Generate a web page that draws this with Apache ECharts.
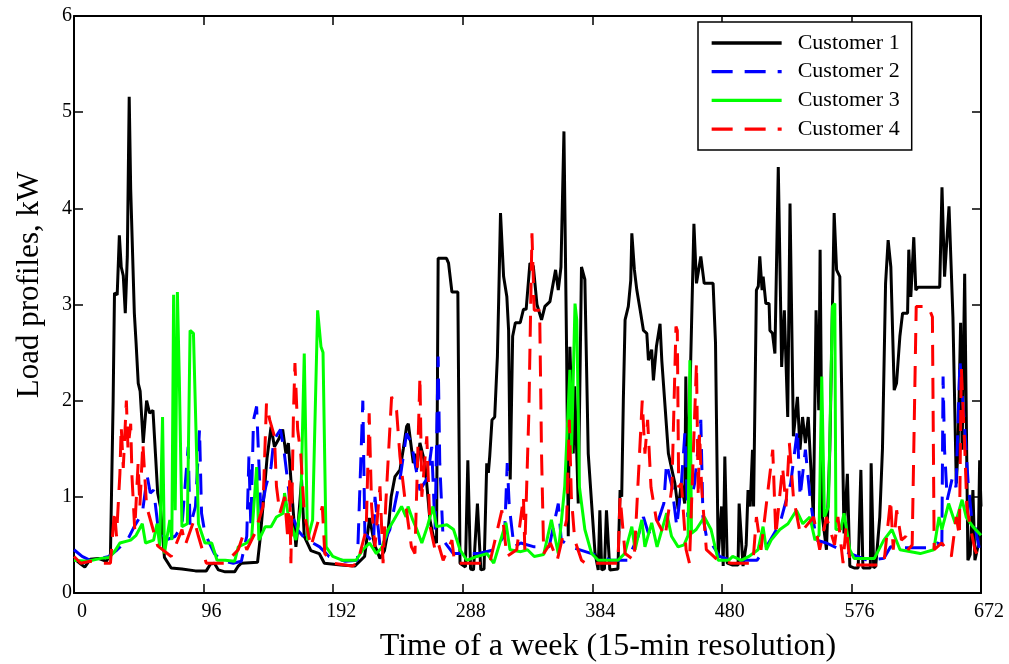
<!DOCTYPE html>
<html>
<head>
    <meta charset="utf-8">
    <script src="https://cdn.jsdelivr.net/npm/echarts@6/dist/echarts.min.js"></script>
    <style>
        html, body { margin: 0; padding: 0; background: #fff; }
        #chart { width: 1009px; height: 664px; }
    </style>
</head>
<body>
<div id="chart"></div>
<script>
    // tick labels
    var xTicks = [0, 96, 192, 288, 384, 480, 576, 672];
    var yTicks = [0, 1, 2, 3, 4, 5, 6];
    var names = ['Customer 1', 'Customer 2', 'Customer 3', 'Customer 4'];

    // [time step, kW]
    var customer1 = [[0,0.36],[5,0.3],[8,0.27],[12,0.35],[18,0.36],[24,0.33],[27,0.4],[29,2.0],[30,3.12],[32,3.1],[33.6,3.72],[35,3.39],[36.5,3.3],[38,2.91],[39.5,3.5],[40.9,5.16],[42,4.2],[44.7,2.91],[46,2.6],[47.6,2.18],[49,2.1],[51.3,1.56],[53.8,2.0],[56,1.87],[58.5,1.9],[60.5,1.41],[62,1.04],[64,0.9],[67,0.37],[72,0.26],[80,0.25],[90,0.23],[98,0.23],[101,0.3],[104,0.31],[107,0.24],[112,0.22],[119,0.22],[121.7,0.28],[124,0.31],[136,0.32],[137.8,0.55],[140.9,1.04],[143,1.4],[146,1.73],[148.5,1.52],[152,1.61],[154.6,1.7],[157,1.45],[158.8,1.56],[160.7,1.18],[164.4,0.48],[166,0.7],[168.6,1.18],[170.6,0.59],[175.5,0.44],[181.7,0.41],[185.5,0.31],[197.8,0.29],[208,0.28],[215.3,0.38],[219,0.78],[222.7,0.5],[226.7,0.36],[230,0.44],[232.8,0.66],[235,1.0],[237.8,1.21],[241.5,1.28],[244,1.5],[246.4,1.73],[247.7,1.76],[251.4,1.35],[252.6,1.45],[253.8,1.28],[256.3,1.56],[260,1.35],[263.7,0.76],[266.2,0.59],[268.6,0.52],[269.8,3.48],[276,3.48],[277.5,3.43],[280,3.13],[284.4,3.13],[286,0.31],[290,0.27],[291.8,1.38],[293.8,0.25],[296,0.24],[298.9,0.93],[301.4,0.24],[303.8,0.25],[305.8,1.35],[307,1.25],[308,1.42],[309.7,1.8],[311.7,1.83],[313.7,2.46],[314.7,3.08],[316,3.95],[318.3,3.29],[320.7,3.08],[322,2.73],[323.2,1.18],[325,2.67],[327,2.81],[330.6,2.81],[333,2.95],[335,2.95],[337.8,3.43],[340.3,3.4],[343,3.0],[346.4,2.84],[348.9,2.98],[352.6,3.03],[356.8,3.36],[358.8,3.15],[360.8,3.39],[363,4.8],[365,2.49],[366.2,0.59],[367.4,2.56],[369.9,1.45],[371,2.15],[373.6,0.93],[376,3.39],[378.5,3.26],[381,1.45],[383.5,0.93],[386,0.42],[388.4,0.24],[389.6,0.86],[391,0.24],[393,0.25],[394.5,0.86],[397,0.24],[403,0.25],[404.6,1.07],[405.8,1.0],[407,2.0],[408.3,2.84],[410.7,2.98],[412.5,3.25],[413.3,3.74],[415.2,3.36],[417,3.15],[419.5,2.94],[421.9,2.73],[424.4,2.7],[425.6,2.42],[428,2.53],[429.3,2.21],[431.5,2.56],[434.2,2.8],[435.5,2.42],[440.4,1.45],[443,1.28],[445.2,1.14],[447.6,0.87],[450,1.14],[452.5,0.93],[453.3,2.25],[454.5,0.97],[459.3,3.84],[461.2,3.22],[464.4,3.5],[466.9,3.22],[473.5,3.22],[475.3,2.6],[477.3,0.38],[479.8,0.9],[481,0.28],[482.2,1.42],[484,0.31],[488,0.29],[492,0.29],[492.8,0.93],[495.7,0.28],[498,0.5],[499.4,1.07],[501,0.9],[502.7,1.49],[503.5,0.9],[505.6,3.15],[507,3.19],[508.1,3.5],[509.8,3.15],[510.6,3.29],[512.6,3.01],[515,3.01],[515.6,2.73],[517.5,2.7],[519.3,2.49],[521.8,4.43],[524.3,2.35],[526.3,2.94],[528.8,1.83],[530.5,4.05],[533,1.63],[536,2.04],[537.9,1.49],[539.8,1.83],[541.9,1.56],[544,1.83],[547.8,0.79],[549.8,2.94],[551.8,1.9],[552.8,3.57],[554.5,0.79],[557.5,0.45],[560,1.5],[563.2,3.95],[565,3.36],[567.4,3.29],[570.5,0.62],[573,1.24],[574.8,0.28],[578,0.26],[581,0.26],[583,1.28],[584.5,0.26],[590,0.26],[590.6,1.35],[592.5,0.26],[594,0.28],[597,0.79],[599,1.5],[601.3,3.22],[603.2,3.67],[605.2,3.39],[607.7,2.11],[609.4,2.18],[611.9,2.67],[613.9,2.91],[617.6,2.91],[618.5,3.57],[620,3.08],[622.2,3.7],[623.7,3.15],[625.4,3.18],[641.4,3.18],[643.1,4.22],[645,3.29],[648.3,4.02],[651.2,2.87],[653.7,1.14],[655,1.5],[656.9,2.81],[658,1.49],[659.9,3.32],[662.3,0.34],[664,0.4],[666,1.07],[667.5,0.34],[670,0.5],[671,1.38],[672,0.9]];

    var customer2 = [[0,0.45],[6,0.38],[12,0.34],[20,0.36],[26,0.38],[32,0.45],[39.6,0.55],[45,0.7],[50.6,0.83],[54.3,1.21],[56.5,1.04],[59,1.07],[62,0.72],[68,0.55],[75,0.59],[80,0.7],[84.6,1.52],[86,0.69],[90,0.9],[93,1.7],[94.5,0.83],[97,0.62],[104,0.41],[109,0.34],[118,0.31],[124,0.33],[128,0.59],[129.6,1.42],[131,0.69],[133,1.8],[135.3,1.94],[136.5,1.52],[138.5,0.83],[142,1.1],[146,1.31],[148,1.59],[153,1.7],[155.5,1.49],[158,1.2],[161,0.83],[166,0.65],[172,0.55],[177,0.52],[182,0.48],[189,0.38],[201,0.33],[210,0.34],[214,2.0],[215.5,0.62],[222,0.52],[223,1.0],[227,0.45],[234,0.66],[241.5,1.18],[246.4,1.66],[250,1.56],[252.6,1.35],[256.3,1.07],[262,1.2],[265,1.52],[267.5,0.66],[269.8,2.46],[271,1.35],[273.5,0.55],[281,0.41],[300,0.41],[311.7,0.45],[319,0.6],[321,1.35],[322.5,0.9],[326,0.48],[331,0.52],[341,0.48],[352,0.48],[358.8,0.93],[361,0.55],[368,0.48],[383.5,0.41],[398,0.34],[410,0.34],[418,0.59],[421.9,0.79],[425.6,0.62],[433,0.76],[437,0.93],[439,1.35],[443,1.11],[446.6,0.69],[450,1.14],[452.6,1.66],[454.8,0.79],[459.8,1.14],[464.4,1.8],[466,0.79],[468.5,0.59],[472,0.52],[478.4,0.38],[487,0.34],[506,0.34],[513,0.48],[523,0.72],[531,1.14],[536,1.7],[538,1.0],[541.9,1.49],[545.5,0.97],[550,0.55],[557.5,0.52],[568,0.45],[575,0.41],[588,0.34],[600,0.36],[605,0.48],[612,0.47],[634,0.47],[639.4,0.52],[643,0.5],[643.9,2.25],[645,1.49],[647,0.97],[651,1.21],[653.5,1.1],[656.4,2.42],[660,1.7],[662.5,1.14],[665,0.79],[667.5,0.69],[672,0.38]];

    var customer3 = [[0,0.34],[10,0.33],[20,0.36],[26,0.37],[30,0.43],[34,0.52],[42,0.55],[46,0.6],[50.6,0.72],[53,0.52],[59,0.55],[61.5,0.72],[63.5,0.49],[65.6,1.83],[67,0.41],[71,0.76],[72.5,0.55],[73.8,3.1],[75,0.86],[76.6,3.13],[78,2.25],[80,0.69],[84,0.72],[86,2.73],[88.5,2.7],[92.2,0.72],[97,0.52],[102,0.52],[106,0.34],[112,0.34],[119,0.33],[121.7,0.48],[127.9,0.52],[131.6,0.57],[135.3,1.31],[137,0.55],[141.7,0.69],[146,0.69],[150,0.79],[155,0.83],[156,1.04],[158.5,0.83],[164.4,0.55],[168,0.9],[170.6,2.49],[173,0.55],[176.8,0.76],[180.5,2.94],[183,2.56],[184.5,2.5],[186.8,0.48],[191.7,0.38],[199,0.34],[209,0.34],[214,0.45],[219,0.52],[224,0.41],[228,0.47],[232.8,0.66],[237,0.76],[242.7,0.9],[246,0.79],[247.5,0.9],[251,0.76],[254,0.66],[257.7,0.52],[262,0.7],[265.9,0.9],[268.6,0.69],[276.3,0.71],[281.2,0.66],[286,0.45],[291,0.34],[298.6,0.38],[306,0.41],[311,0.31],[317,0.59],[320,0.73],[323,0.45],[331,0.43],[336,0.45],[341,0.38],[348,0.4],[353.7,0.76],[358.8,0.41],[363.6,1.11],[367.4,2.32],[368.6,1.45],[371.2,3.01],[372.5,2.84],[374.5,1.1],[378.5,0.66],[383.5,0.41],[388.4,0.34],[403,0.34],[408,0.41],[413.3,0.69],[415.7,0.45],[420.7,0.76],[423,0.48],[428,0.73],[432,0.48],[439.1,0.83],[442.7,0.59],[447.6,0.48],[452,0.5],[455,0.6],[456.3,2.42],[457.5,0.62],[461,0.66],[467,0.79],[472,0.66],[477.3,0.34],[485,0.34],[488,0.38],[494.5,0.34],[500,0.38],[506.8,0.45],[510.5,0.69],[513,0.45],[516.5,0.55],[523,0.66],[529,0.72],[535.3,0.86],[540,0.72],[545.2,0.79],[549,0.55],[552,0.6],[554,2.25],[556,0.79],[559,0.9],[561.9,2.98],[563.7,3.01],[564.5,0.66],[568,0.66],[570.5,0.83],[574.8,0.45],[578,0.36],[593,0.36],[600,0.55],[606,0.66],[612,0.45],[627,0.41],[637,0.45],[640.9,0.79],[643,0.66],[648,0.93],[653,0.72],[658,0.97],[661,0.79],[666,0.69],[672,0.6]];

    var customer4 = [[0,0.38],[5,0.31],[12,0.33],[20,0.31],[27,0.31],[30,0.86],[31.5,0.59],[34,1.24],[35,1.73],[36.5,1.3],[38.8,2.0],[40,1.5],[42,1.76],[43,1.2],[45,0.66],[47.5,1.35],[48.8,0.9],[51,1.56],[53.8,0.9],[62,0.49],[72,0.38],[80,0.66],[82.5,0.5],[89,0.76],[92.2,0.59],[98,0.31],[104,0.31],[112,0.31],[121.7,0.45],[125,0.59],[128,0.45],[134,0.62],[140,0.9],[142.6,1.97],[145,1.8],[148.5,1.63],[150,1.11],[152.5,0.83],[156,1.0],[158.5,0.55],[159.8,1.18],[160.7,0.31],[162.6,1.87],[163.7,2.39],[165.7,1.7],[168,1.45],[170.6,0.83],[175.5,0.48],[184,0.9],[185.8,0.41],[191.7,0.31],[206,0.28],[210,0.31],[216.5,0.66],[218.7,1.87],[220.5,0.9],[223,0.48],[226.7,1.11],[229,0.31],[231,0.93],[235.3,2.04],[239,1.9],[241.5,1.42],[245,1.0],[250,0.48],[252.6,0.41],[256.3,2.25],[257.7,1.0],[261.4,1.63],[263.7,0.7],[267.5,0.45],[269.8,0.52],[273.5,0.34],[280,0.55],[282,0.31],[293,0.31],[308,0.31],[317,0.86],[320.7,0.38],[328,0.45],[333,1.0],[334,0.45],[337,1.87],[339.3,3.74],[341,2.94],[345,2.94],[346.4,1.45],[348,0.41],[353,0.52],[358,0.34],[365,0.76],[367,1.8],[368.5,1.0],[371,0.55],[376,0.34],[379,0.31],[403,0.31],[404.6,1.0],[408.3,0.41],[415,0.34],[421,2.0],[423,1.45],[425,1.8],[427.5,1.1],[431.5,0.76],[438,0.59],[443,1.1],[446,2.77],[447,2.73],[448,1.1],[450,1.14],[453.5,0.45],[456,0.31],[461.2,2.39],[462.5,1.0],[463.5,1.66],[465,1.1],[468.5,0.45],[477,0.34],[487,0.31],[503,0.31],[505.6,0.79],[509,0.45],[517.7,1.49],[520,0.6],[525,1.31],[527.5,0.9],[530,1.56],[533,1.0],[538,0.62],[548,0.79],[552.5,0.45],[557.5,0.79],[563.5,0.5],[566,0.79],[569.8,0.31],[572,0.69],[575,0.31],[578,0.29],[595,0.29],[600,0.3],[605,0.97],[607,0.45],[609.5,0.86],[613,0.55],[616.3,0.59],[618,0.45],[621,0.5],[624,2.98],[633,2.98],[636,2.87],[637.3,0.45],[643,0.52],[650,0.38],[653.7,0.79],[656,0.59],[657.4,2.35],[660,1.5],[661.5,0.9],[664,0.69],[667.5,0.45],[672,0.31]];

    var serif = 'Liberation Serif';
    var chart = echarts.init(document.getElementById('chart'), null, { renderer: 'canvas' });

    function axisX(pos, showLabel) {
        return {
            type: 'value', position: pos,
            min: xTicks[0], max: xTicks[xTicks.length - 1], interval: 96,
            axisLine: { show: true, onZero: false, lineStyle: { color: '#000', width: 2 } },
            axisTick: { show: true, inside: true, length: 9, lineStyle: { color: '#000', width: 1.5 } },
            axisLabel: {
                show: showLabel, margin: 9, color: '#000', fontFamily: serif, fontSize: 20,
                padding: [0, 0, 0, 16]
            },
            splitLine: { show: false }
        };
    }
    function axisY(pos, showLabel) {
        return {
            type: 'value', position: pos,
            min: yTicks[0], max: yTicks[yTicks.length - 1], interval: 1,
            axisLine: { show: true, onZero: false, lineStyle: { color: '#000', width: 2 } },
            axisTick: { show: true, inside: true, length: 9, lineStyle: { color: '#000', width: 1.5 } },
            axisLabel: { show: showLabel, margin: 2, color: '#000', fontFamily: serif, fontSize: 20 },
            splitLine: { show: false }
        };
    }

    var styles = [
        { color: '#000000', type: 'solid' },
        { color: '#0000ff', type: [21, 12] },
        { color: '#00ff00', type: 'solid' },
        { color: '#ff0000', type: [21, 12] }
    ];
    var seriesData = [customer1, customer2, customer3, customer4];

    var option = {
        animation: false,
        backgroundColor: '#fff',
        grid: { left: 74, right: 28, top: 16, bottom: 71 },
        xAxis: [axisX('bottom', true), axisX('top', false)],
        yAxis: [axisY('left', true), axisY('right', false)],
        legend: {
            left: 698, top: 22, orient: 'vertical',
            data: names,
            backgroundColor: '#fff',
            borderColor: '#000', borderWidth: 1.5, borderRadius: 0,
            padding: [10, 12, 10, 12],
            itemWidth: 70, itemHeight: 14, itemGap: 6.7,
            itemStyle: { opacity: 0 },
            lineStyle: { width: 3.3 },
            textStyle: { fontFamily: serif, fontSize: 22, color: '#000', lineHeight: 22, padding: [0, 0, 0, 11] }
        },
        graphic: [
            {
                type: 'text', x: 30, y: 285, rotation: Math.PI / 2,
                style: { text: 'Load profiles, kW', fontFamily: serif, fontSize: 31, fill: '#000', align: 'center', verticalAlign: 'middle' }
            },
            {
                type: 'text', x: 608, y: 647,
                style: { text: 'Time of a week (15-min resolution)', fontFamily: serif, fontSize: 32, fill: '#000', align: 'center', verticalAlign: 'middle' }
            }
        ],
        series: seriesData.map(function (d, i) {
            return {
                name: names[i], type: 'line', data: d,
                xAxisIndex: 0, yAxisIndex: 0,
                symbol: 'none', showSymbol: false,
                lineStyle: { color: styles[i].color, width: 3, type: styles[i].type },
                itemStyle: { color: styles[i].color }
            };
        })
    };
    chart.setOption(option);
</script>
</body>
</html>
